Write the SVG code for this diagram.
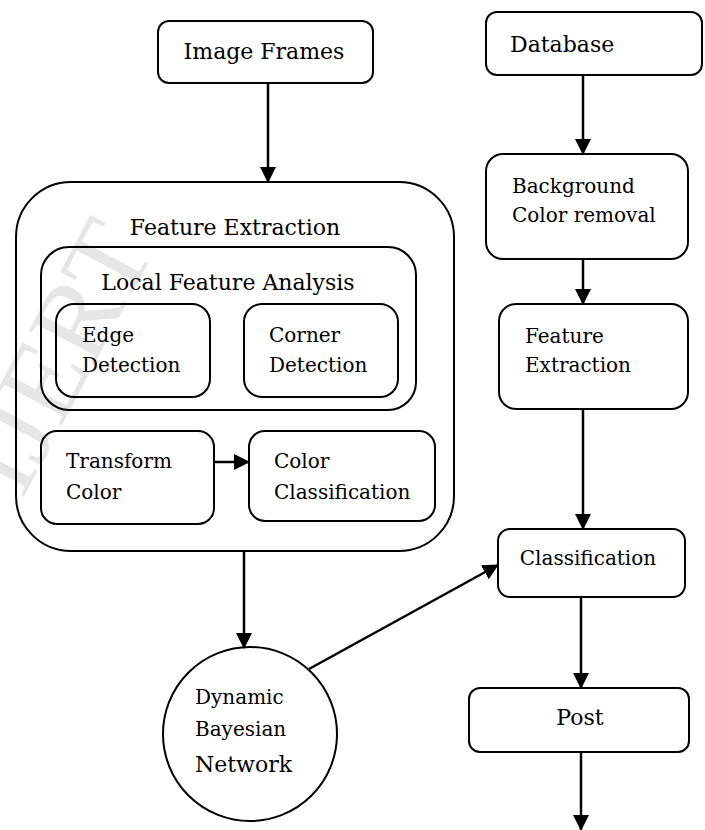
<svg xmlns="http://www.w3.org/2000/svg" width="705" height="830" viewBox="0 0 705 830">
<style>
.box{fill:none;stroke:#000;stroke-width:2}
.t{font-family:"DejaVu Serif","Liberation Serif",serif;font-size:20px;fill:#000}
.h{font-size:22px}
.c{text-anchor:middle}
.ln{stroke:#000;stroke-width:2.5;fill:none;marker-end:url(#ah)}
.wm{font-family:"Liberation Serif",serif;font-size:112px;fill:#e6e6e6}
</style>
<defs>
<marker id="ah" markerUnits="userSpaceOnUse" markerWidth="16" markerHeight="16" refX="15" refY="8" orient="auto">
<path d="M0,0 L16,8 L0,16 Z" fill="#000"/>
</marker>
</defs>
<rect width="705" height="830" fill="#fff"/>
<g id="watermark">
<text class="wm" transform="translate(22,500) rotate(-62)">IJERT</text>
</g>
<g id="image-frames">
<rect class="box" x="158" y="21" width="215" height="62" rx="11"/>
<text class="t h c" x="264" y="59">Image Frames</text>
</g>
<g id="feature-extraction">
<rect class="box" x="16" y="182" width="438" height="369" rx="55"/>
<text class="t h c" x="235" y="235">Feature Extraction</text>
</g>
<g id="local-feature-analysis">
<rect class="box" x="41" y="247" width="375" height="163" rx="28"/>
<text class="t h c" x="228" y="290">Local Feature Analysis</text>
</g>
<g id="edge-detection">
<rect class="box" x="56" y="304" width="154" height="93" rx="18"/>
<text class="t" x="82" y="342">Edge</text>
<text class="t" x="82" y="372">Detection</text>
</g>
<g id="corner-detection">
<rect class="box" x="244" y="304" width="154" height="93" rx="18"/>
<text class="t" x="269" y="342">Corner</text>
<text class="t" x="269" y="372">Detection</text>
</g>
<g id="transform-color">
<rect class="box" x="41" y="431" width="173" height="93" rx="16"/>
<text class="t" x="66" y="468">Transform</text>
<text class="t" x="66" y="499">Color</text>
</g>
<g id="color-classification">
<rect class="box" x="249" y="431" width="186" height="90" rx="16"/>
<text class="t" x="274" y="468">Color</text>
<text class="t" x="274" y="499">Classification</text>
</g>
<g id="dbn">
<circle class="box" cx="250" cy="734" r="87"/>
<text class="t" x="195" y="704">Dynamic</text>
<text class="t" x="195" y="736">Bayesian</text>
<text class="t h" x="195" y="772">Network</text>
</g>
<g id="database">
<rect class="box" x="486" y="12" width="216" height="63" rx="11"/>
<text class="t h" x="510" y="52">Database</text>
</g>
<g id="background-removal">
<rect class="box" x="486" y="154" width="202" height="105" rx="17"/>
<text class="t" x="512" y="193">Background</text>
<text class="t" x="512" y="222">Color removal</text>
</g>
<g id="feature-extraction-2">
<rect class="box" x="499" y="304" width="189" height="105" rx="17"/>
<text class="t" x="525" y="343">Feature</text>
<text class="t" x="525" y="372">Extraction</text>
</g>
<g id="classification">
<rect class="box" x="498" y="529" width="187" height="68" rx="12"/>
<text class="t c" x="588" y="565">Classification</text>
</g>
<g id="post">
<rect class="box" x="469" y="688" width="220" height="64" rx="11"/>
<text class="t h c" x="580" y="725">Post</text>
</g>
<g id="connectors">
<line class="ln" x1="268" y1="83" x2="268" y2="182"/>
<line class="ln" x1="214" y1="462" x2="249" y2="462"/>
<line class="ln" x1="244" y1="551" x2="244" y2="648"/>
<line class="ln" x1="309" y1="669" x2="498" y2="565"/>
<line class="ln" x1="583" y1="75" x2="583" y2="154"/>
<line class="ln" x1="583" y1="259" x2="583" y2="304"/>
<line class="ln" x1="583" y1="409" x2="583" y2="529"/>
<line class="ln" x1="581" y1="597" x2="581" y2="688"/>
<line class="ln" x1="581" y1="752" x2="581" y2="830"/>
</g>
</svg>
